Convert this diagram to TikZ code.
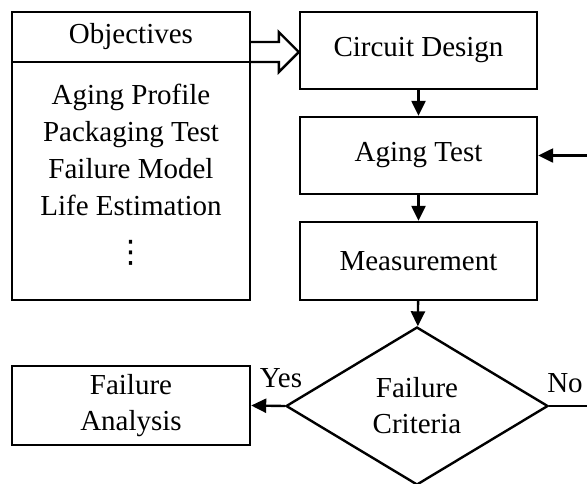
\documentclass[tikz,border=0pt]{standalone}
\usepackage{fontspec}
\setmainfont{Liberation Serif}
\newfontfamily\dejavu{DejaVu Sans}
\usetikzlibrary{shapes.geometric,arrows.meta,calc}
\begin{document}
\begin{tikzpicture}[x=1pt,y=-1pt,
  every node/.style={font=\fontsize{29}{36}\selectfont},
  box/.style={draw, line width=2.4pt, rectangle, inner sep=0pt, align=center},
  dec/.style={draw, line width=2.4pt, diamond, inner sep=0pt, align=center,
              minimum width=262pt, minimum height=158pt},
  arr/.style={line width=2.4pt, -{Triangle[length=15pt,width=14pt]}},
  ln/.style={line width=2.4pt},
  lbl/.style={inner sep=0pt}]
\useasboundingbox (0,0) rectangle (587,483);

% left objectives box
\node[box, minimum width=238pt, minimum height=50pt] (obj) at (131,37) {Objectives};
\node[box, minimum width=238pt, minimum height=238pt] (lst) at (131,181) {};
\node[lbl, align=center, font=\fontsize{29}{37}\selectfont] (items) at (131,149.5)
  {Aging Profile\\Packaging Test\\Failure Model\\Life Estimation};
\node[lbl, font=\dejavu\fontsize{31}{31}\selectfont] (dots) at (131,253) {⋮};

% flow boxes
\node[box, minimum width=237pt, minimum height=77pt] (cd) at (418.5,50.5) {Circuit Design};
\node[box, minimum width=237pt, minimum height=77pt] (at) at (418.5,155.5) {Aging Test};
\node[box, minimum width=237pt, minimum height=78pt] (meas) at (418.5,261) {Measurement};
\node[dec] (crit) at (417,406) {Failure\\Criteria};
\node[box, minimum width=238pt, minimum height=79pt] (fa) at (131,405.5) {Failure\\Analysis};

% hollow arrow from objectives to circuit design
\coordinate (tip) at ($(cd.west)+(0,1.5)$);
\draw[ln, line join=miter]
  ($(obj.east)+(0,5)$) -- ($(tip)+(-20,-10)$) -- ($(tip)+(-20,-20)$) -- (tip)
  -- ($(tip)+(-20,20)$) -- ($(tip)+(-20,10)$) -- ($(obj.east)+(0,25)$);

% connectors
\draw[arr] (cd) -- (at);
\draw[arr] (at) -- (meas);
\draw[arr] (meas) -- (crit);
\draw[arr] (crit.west) -- (fa.east);
\coordinate (nr1) at (600,406);
\coordinate (nr2) at (600,155.5);
\draw[ln] (crit.east) -- (nr1);
\draw[arr] (nr2) -- (at.east);

% labels
\node[lbl] (yes) at (281,378) {Yes};
\node[lbl] (no) at (565,383) {No};
\end{tikzpicture}
\end{document}
